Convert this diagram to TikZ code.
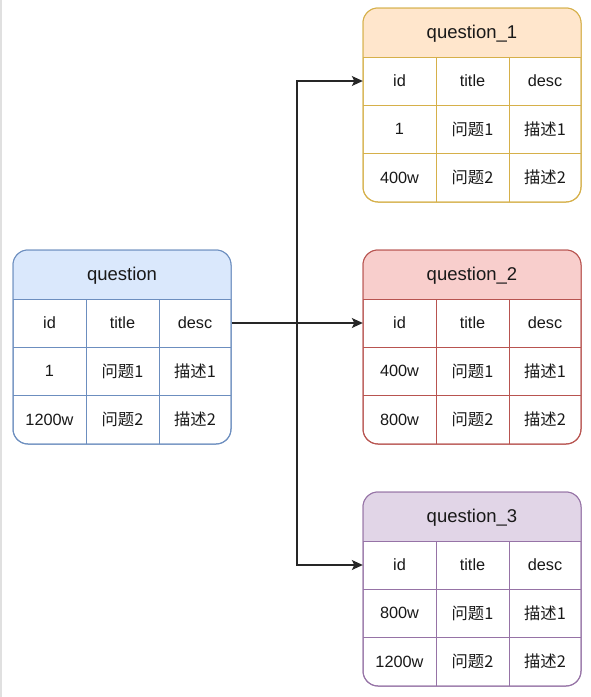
\documentclass[tikz,border=0pt]{standalone}
\usepackage{fontspec}
\setmainfont{Liberation Sans}
\newfontfamily\cjk{Noto Sans CJK SC}
\usetikzlibrary{arrows.meta}
\definecolor{blueF}{HTML}{DAE8FC}\definecolor{blueD}{HTML}{6C8EBF}
\definecolor{orgF}{HTML}{FFE6CC}\definecolor{orgD}{HTML}{D6B04A}
\definecolor{redF}{HTML}{F8CECC}\definecolor{redD}{HTML}{B85450}
\definecolor{purF}{HTML}{E1D5E7}\definecolor{purD}{HTML}{9673A6}
\newcommand{\qtable}[8]{%
  \begin{scope}[shift={(#2,#3)}]
   \draw[#5,fill=white,line width=1pt,rounded corners=15pt] (0,0) rectangle (218,194);
   \fill[#4] (0,49) [rounded corners=15pt]-- (0,0) -- (218,0) [sharp corners]-- (218,49) -- cycle;
   \draw[#5,line width=1pt] (0,49) -- (218,49) (0,97) -- (218,97) (0,145) -- (218,145);
   \draw[#5,line width=1pt] (73,49) -- (73,194) (146,49) -- (146,194);
   \draw[#5,line width=1pt,rounded corners=15pt] (0,0) rectangle (218,194);
   \node[hdr]  (#1-name) at (109,26) {#6};
   \node[cell] (#1-id)    at (36.5,73) {id};
   \node[cell] (#1-title) at (109.5,73) {title};
   \node[cell] (#1-desc)  at (182,73) {desc};
   \node[cell] (#1-r1a) at (36.5,121) {#7};
   \node[cell] (#1-r1b) at (109.5,121) {\cjk 问题1};
   \node[cell] (#1-r1c) at (182,121) {\cjk 描述1};
   \node[cell] (#1-r2a) at (36.5,169.5) {#8};
   \node[cell] (#1-r2b) at (109.5,169.5) {\cjk 问题2};
   \node[cell] (#1-r2c) at (182,169.5) {\cjk 描述2};
  \end{scope}}
\begin{document}
\begin{tikzpicture}[x=1pt,y=-1pt,
  hdr/.style={inner sep=0pt,text=black!90,font=\fontsize{18.5}{20}\selectfont},
  cell/.style={inner sep=0pt,minimum width=73pt,minimum height=48pt,text=black!90,font=\fontsize{16.3}{18}\selectfont},
  link/.style={line width=1.2pt,black!85,-{Stealth[length=11pt,width=10pt,inset=2.5pt]}}]
\useasboundingbox (0,0) rectangle (591,697);
\fill[white] (0,0) rectangle (591,697);
\draw[black!12,line width=1.5pt] (1,0) -- (1,697);

\qtable{q}{13}{250}{blueF}{blueD}{question}{1}{1200w}
\qtable{q1}{363}{8}{orgF}{orgD}{question\_1}{1}{400w}
\qtable{q2}{363}{250}{redF}{redD}{question\_2}{400w}{800w}
\qtable{q3}{363}{492}{purF}{purD}{question\_3}{800w}{1200w}

\coordinate (split) at (297,323);
\draw[link] (q-desc.east) -- (q2-id.west);
\draw[link] (split) |- (q1-id.west);
\draw[link] (split) |- (q3-id.west);
\end{tikzpicture}
\end{document}
